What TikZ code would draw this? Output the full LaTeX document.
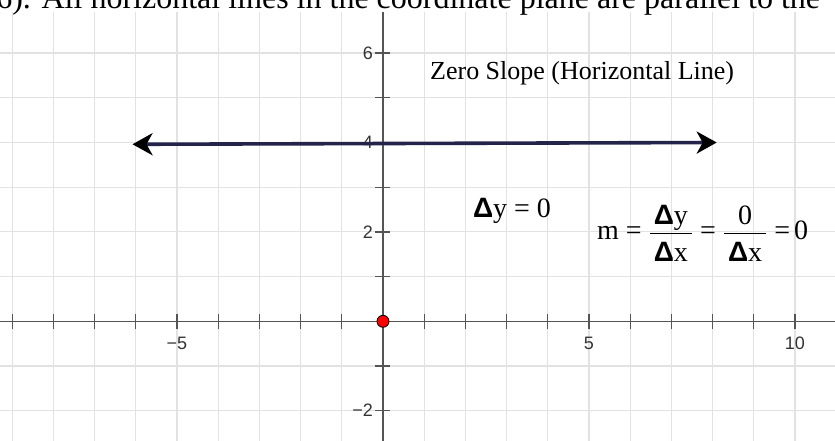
\documentclass[tikz,border=0pt]{standalone}
\usepackage{fontspec}
\setmainfont{Liberation Serif}
\newfontfamily\labelfont{Liberation Sans}
\usetikzlibrary{arrows.meta}
\definecolor{GridGray}{HTML}{E2E2E2}
\definecolor{AxisGray}{HTML}{555555}
\definecolor{LineNavy}{HTML}{24244A}
\definecolor{LabelInk}{HTML}{333333}
\newcommand\dlt{{\labelfont\bfseries Δ}}

\begin{document}
\begin{tikzpicture}[x=41.2pt,y=44.7pt,
  gridline/.style={draw=GridGray,line width=1.2pt},
  axisline/.style={draw=AxisGray,line width=1.3pt},
  ticklabel/.style={font=\labelfont\fontsize{18}{20}\selectfont,text=LabelInk,inner sep=0pt},
  note/.style={font=\fontsize{26}{30}\selectfont,inner sep=0pt,anchor=base west},
  bignote/.style={note,font=\fontsize{28}{32}\selectfont},
  slopeline/.style={draw=LineNavy,line width=3.6pt,
    {Stealth[length=20pt,width=22pt,inset=6pt,black]}-{Stealth[length=20pt,width=22pt,inset=6pt,black]}},
  origindot/.style={circle,draw=black,fill=red,line width=0.8pt,minimum size=12pt,inner sep=0pt}
]
\useasboundingbox (-9.296,-2.656) rectangle (10.971,7.188);
\clip (-9.296,-2.656) rectangle (10.971,7.188);

% text of the page above the graph, cut by the frame
\node[note,font=\fontsize{32}{36}\selectfont] (pagetext) at (-9.39,6.987)
  {6). All horizontal lines in the coordinate plane are parallel to the};

% grid
\foreach \gx in {-9,...,10}
  \draw[gridline] (\gx,-2.7) -- (\gx,6.92);
\foreach \gy in {-2,...,6}
  \draw[gridline] (-9.3,\gy) -- (11,\gy);

% axes
\coordinate (xmin) at (-9.3,0);
\coordinate (xmax) at (11,0);
\coordinate (ymin) at (0,-2.7);
\coordinate (ymax) at (0,6.92);
\draw[axisline] (xmin) -- (xmax);
\draw[axisline] (ymin) -- (ymax);
\foreach \gx in {-9,...,-1,1,2,...,10}
  \draw[axisline] (\gx,0) ++(0,-7.5pt) -- ++(0,15pt);
\foreach \gy in {-2,-1,1,2,...,6}
  \draw[axisline] (0,\gy) ++(-7.5pt,0) -- ++(15pt,0);

% tick labels
\node[ticklabel] (xlabm5) at (-5,-0.49) {−5};
\node[ticklabel] (xlab5) at (5,-0.49) {5};
\node[ticklabel] (xlab10) at (10,-0.49) {10};
\node[ticklabel,anchor=east] (ylab6) at (-0.243,6) {6};
\node[ticklabel,anchor=east] (ylab4) at (-0.243,4) {4};
\node[ticklabel,anchor=east] (ylab2) at (-0.243,2) {2};
\node[ticklabel,anchor=east] (ylabm2) at (-0.243,-2) {−2};

% the horizontal line
\coordinate (lineleft) at (-6.08,3.96);
\coordinate (lineright) at (8.1,4.0);
\draw[slopeline] (lineleft) -- (lineright);

% texts
\node[note] (title) at (1.14,5.42) {Zero Slope (Horizontal Line)};
\node[bignote] (dy) at (2.18,2.33) {\dlt y = 0};
\node[bignote] (slope) at (5.19,1.824)
  {$\displaystyle\hbox{m = }
   \frac{\raisebox{-2pt}{\kern4pt\dlt y\kern4pt}}{\raisebox{-5pt}{\kern4pt\dlt x\kern4pt}}
   \hbox{ = }
   \frac{\raisebox{-2pt}{\kern4pt 0\kern4pt}}{\raisebox{-5pt}{\kern4pt\dlt x\kern4pt}}
   \hbox{ =\kern4pt 0}$};

\node[origindot] (origin) at (0,0) {};
\end{tikzpicture}
\end{document}
